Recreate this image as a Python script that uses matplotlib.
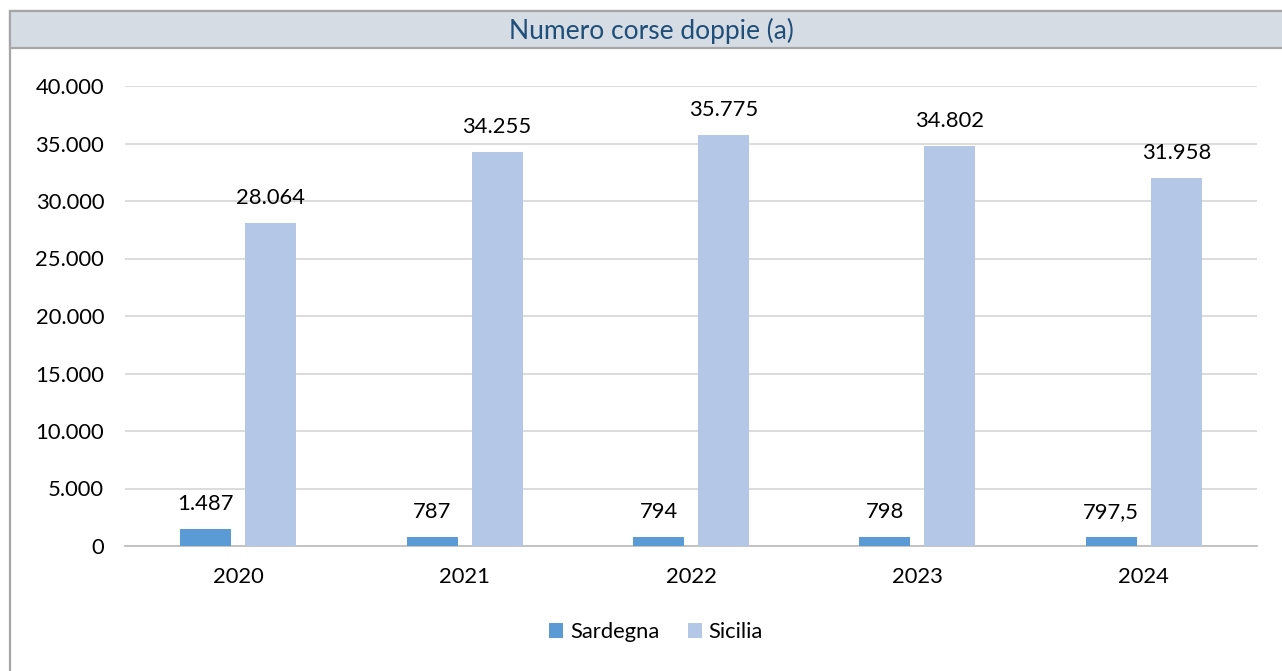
import matplotlib
matplotlib.use("Agg")
import matplotlib.pyplot as plt
from matplotlib.patches import Rectangle
import numpy as np

years = ["2020", "2021", "2022", "2023", "2024"]
sardegna = [1487, 787, 794, 798, 797.5]
sicilia = [28064, 34255, 35775, 34802, 31958]
sardegna_labels = ["1.487", "787", "794", "798", "797,5"]
sicilia_labels = ["28.064", "34.255", "35.775", "34.802", "31.958"]
yticks = [0, 5000, 10000, 15000, 20000, 25000, 30000, 35000, 40000]
ytick_labels = ["0", "5.000", "10.000", "15.000", "20.000", "25.000", "30.000", "35.000", "40.000"]
title = "Numero corse doppie (a)"

plt.rcParams['font.family'] = ['Lato', 'DejaVu Sans']
FS = 15.8

W, H = 1282, 671
fig = plt.figure(figsize=(W / 100, H / 100), dpi=100)
fig.patch.set_facecolor("white")

# outer frame and title band
frame = Rectangle((9.5 / W, -0.02), 1.1, 1 - 10.5 / H + 0.02, transform=fig.transFigure,
                  facecolor="white", edgecolor="#A6A6A6", linewidth=1.6, zorder=-2)
fig.patches.append(frame)
band = Rectangle((9.5 / W, 1 - 48 / H), 1.1, 37.5 / H, transform=fig.transFigure,
                 facecolor="#D6DCE4", edgecolor="#A6A6A6", linewidth=1.6, zorder=-1)
fig.patches.append(band)
fig.text(651 / W, 1 - 31 / H, title, ha="center", va="center", fontsize=19, color="#1F4E79")

ax = fig.add_axes([125 / W, 1 - 546 / H, (1257 - 125) / W, (546 - 86) / H])
x = np.arange(len(years))
bw = 0.225
gap = 0.062
b1 = ax.bar(x - (bw + gap) / 2, sardegna, bw, color="#5B9BD5", label="Sardegna", zorder=3)
b2 = ax.bar(x + (bw + gap) / 2, sicilia, bw, color="#B4C7E7", label="Sicilia", zorder=3)

for rect, lab in zip(b1, sardegna_labels):
    ax.annotate(lab, (rect.get_x() + rect.get_width() / 2, rect.get_height()),
                xytext=(0, 18), textcoords="offset points", ha="center", va="center",
                fontsize=FS, color="#000000")
for rect, lab in zip(b2, sicilia_labels):
    ax.annotate(lab, (rect.get_x() + rect.get_width() / 2, rect.get_height()),
                xytext=(0, 18), textcoords="offset points", ha="center", va="center",
                fontsize=FS, color="#000000")

ax.set_xlim(-0.5, len(years) - 0.5)
ax.set_ylim(0, 40000)
ax.set_yticks(yticks)
ax.set_yticklabels(ytick_labels, fontsize=FS)
ax.set_xticks(x)
ax.set_xticklabels(years, fontsize=FS)
ax.tick_params(axis="y", length=0, pad=15)
ax.tick_params(axis="x", length=0, pad=15)
ax.grid(axis="y", color="#D9D9D9", linewidth=1.3, zorder=0)
for s in ["top", "right", "left"]:
    ax.spines[s].set_visible(False)
ax.spines["bottom"].set_color("#BFBFBF")
ax.spines["bottom"].set_linewidth(1.3)
ax.set_facecolor("none")

fig.legend(handles=[b1, b2], labels=["Sardegna", "Sicilia"], loc="center",
           bbox_to_anchor=(656 / W, 1 - 632 / H), ncol=2, frameon=False,
           fontsize=FS, handlelength=0.65, handleheight=0.65, handletextpad=0.3,
           columnspacing=1.3)

fig.savefig("out.png", dpi=100)
